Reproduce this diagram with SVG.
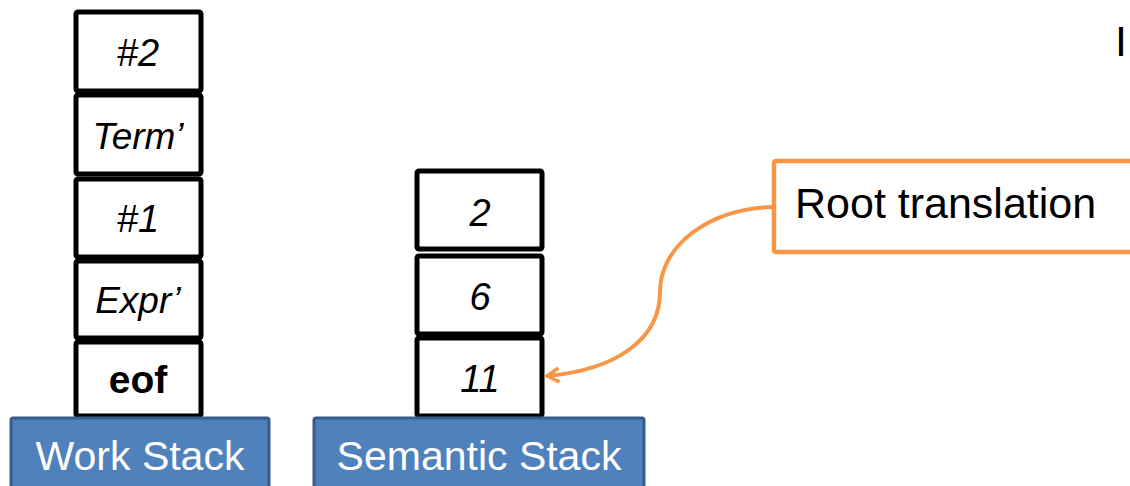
<svg xmlns="http://www.w3.org/2000/svg" width="1130" height="486" viewBox="0 0 1130 486">
  <style>
    .cell { fill: #ffffff; stroke: #000000; stroke-width: 5; }
    .base { fill: #4f81bd; stroke: #385d8a; stroke-width: 3; }
    .val { font-family: "Liberation Sans", Arial, sans-serif; font-style: italic; font-size: 38px; fill: #000; text-anchor: middle; }
    .sym { font-family: "Liberation Sans", Arial, sans-serif; font-style: italic; font-size: 37px; fill: #000; text-anchor: middle; }
    .kw { font-family: "Liberation Sans", Arial, sans-serif; font-weight: bold; font-size: 39px; fill: #000; text-anchor: middle; }
    .lbl { font-family: "Liberation Sans", Arial, sans-serif; font-size: 41px; fill: #ffffff; text-anchor: middle; }
    .note { fill: #ffffff; stroke: #f79646; stroke-width: 4.5; }
    .notetext { font-family: "Liberation Sans", Arial, sans-serif; font-size: 43px; fill: #000; }
    .link { fill: none; stroke: #f79646; stroke-width: 4; }
  </style>
  <defs>
    <marker id="open-arrow" markerWidth="18" markerHeight="18" refX="15" refY="9" orient="auto" markerUnits="userSpaceOnUse" viewBox="0 0 18 18">
      <path d="M3,2 L15,9 L3,16" fill="none" stroke="#f79646" stroke-width="3.5"/>
    </marker>
  </defs>

  <!-- work stack -->
  <g id="work-stack">
    <rect class="cell" x="76" y="12" width="125" height="79" rx="2"/>
    <rect class="cell" x="76" y="95" width="125" height="79" rx="2"/>
    <rect class="cell" x="76" y="179" width="125" height="78" rx="2"/>
    <rect class="cell" x="76" y="261" width="125" height="77" rx="2"/>
    <rect class="cell" x="76" y="342" width="125" height="74" rx="2"/>
    <text class="val" x="138" y="66">#2</text>
    <text class="sym" x="138" y="149">Term’</text>
    <text class="val" x="138" y="232">#1</text>
    <text class="sym" x="138" y="313">Expr’</text>
    <text class="kw" x="138" y="393">eof</text>
  </g>
  <g id="work-stack-label">
    <rect class="base" x="11" y="418" width="258" height="72" rx="2"/>
    <text class="lbl" x="140" y="470">Work Stack</text>
  </g>

  <!-- semantic stack -->
  <g id="semantic-stack">
    <rect class="cell" x="417" y="171" width="125" height="78" rx="2"/>
    <rect class="cell" x="417" y="256" width="125" height="78" rx="2"/>
    <rect class="cell" x="417" y="338" width="125" height="78" rx="2"/>
    <text class="val" x="480" y="226">2</text>
    <text class="val" x="480" y="310">6</text>
    <text class="val" x="480" y="392">11</text>
  </g>
  <g id="semantic-stack-label">
    <rect class="base" x="314" y="418" width="330" height="72" rx="2"/>
    <text class="lbl" x="479" y="470">Semantic Stack</text>
  </g>

  <!-- callout -->
  <g id="root-translation">
    <rect class="note" x="774" y="161" width="370" height="91" rx="2"/>
    <text class="notetext" x="795" y="218">Root translation</text>
  </g>

  <g id="connectors">
    <path class="link" d="M774,207 C710,208 660,245 660,292 C660,340 615,370 547,376" marker-end="url(#open-arrow)"/>
  </g>

  <!-- clipped heading letter at the right edge -->
  <g id="heading">
    <text class="notetext" x="1115" y="56" font-size="40">I</text>
  </g>
</svg>
